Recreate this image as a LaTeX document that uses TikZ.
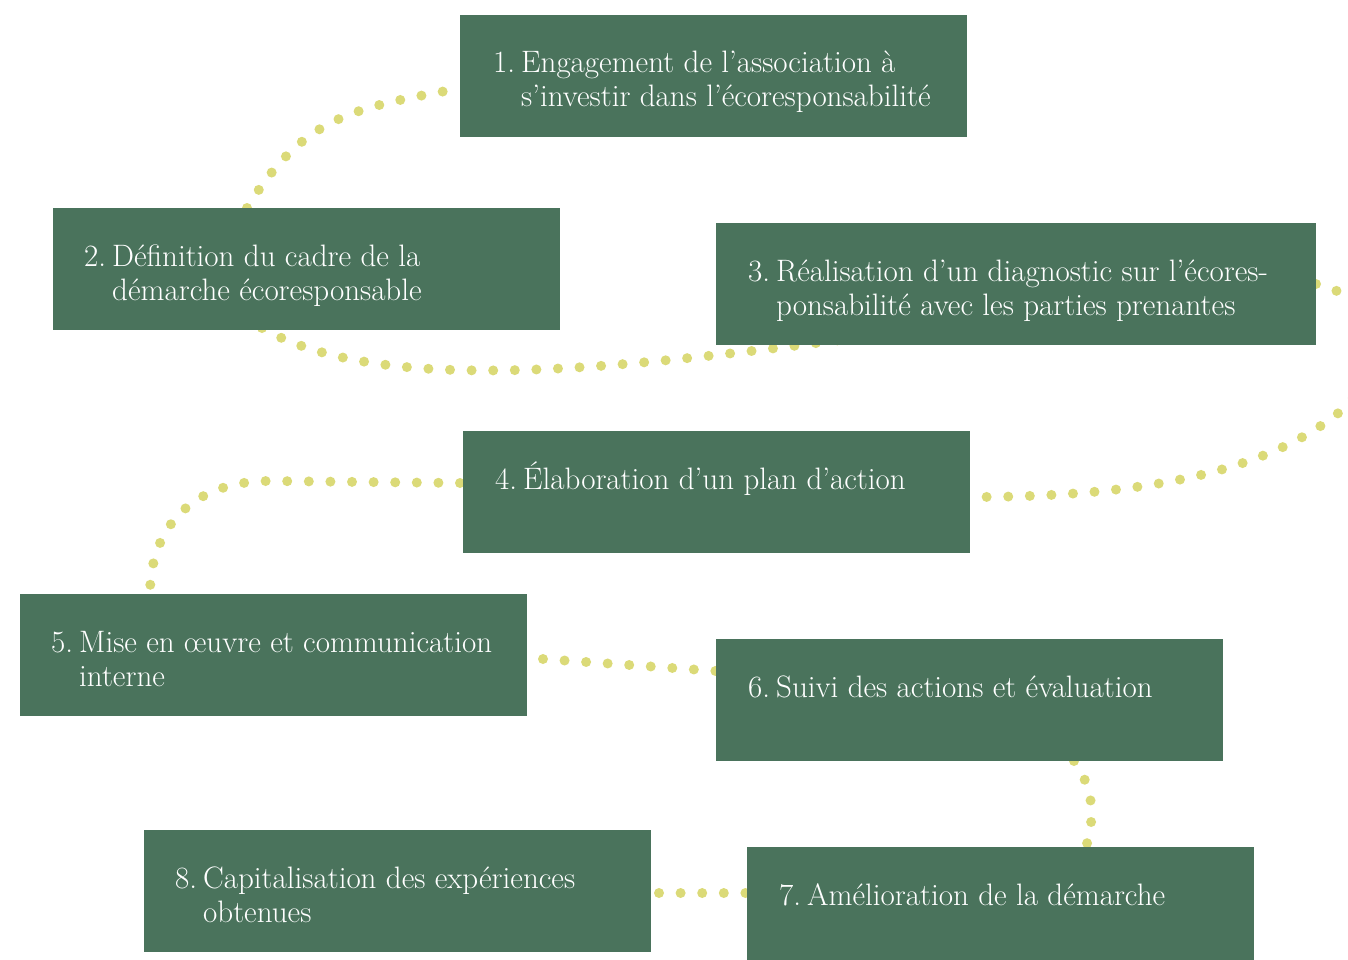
\documentclass[tikz,border=0pt]{standalone}
\usetikzlibrary{calc}
\definecolor{boxgreen}{HTML}{4A735C}
\definecolor{dotcol}{HTML}{DBDA78}
\newcommand{\stepitem}[2]{\begin{tabular}[t]{@{}l@{}l@{}}\makebox[28pt][l]{#1} & #2\end{tabular}}
\tikzset{
  stepbox/.style={fill=boxgreen, draw=none, inner sep=0pt, minimum width=507pt, minimum height=122pt, anchor=north west},
  steptext/.style={text=white, inner sep=0pt, anchor=base west, font=\fontsize{31}{34}\selectfont},
  dotline/.style={draw=dotcol, line width=10pt, line cap=round, dash pattern=on 0pt off 21.6pt}
}
\begin{document}
\begin{tikzpicture}[x=1pt, y=-1pt]
\useasboundingbox (0,0) rectangle (1348,960);
\clip (0,0) rectangle (1348,960);
% box corners
\path (460,15) coordinate (p1) (53,208) coordinate (p2) (716,223) coordinate (p3)
      (463,431) coordinate (p4) (20,594) coordinate (p5) (716,639) coordinate (p6)
      (747,847) coordinate (p7) (144,830) coordinate (p8);
% connectors (under boxes)
\draw[dotline] ($(p2)+(194,0)$) coordinate (c12a) .. controls (304,115) and (354,108) .. ($(p1)+(2,73)$) coordinate (c12b);
\draw[dotline] ($(p2)+(209,120)$) coordinate (c23a) .. controls (375,393) and (592,372) .. ($(p3)+(124,117)$) coordinate (c23b);
\draw[dotline] ($(p3)+(600,61)$) coordinate (c34a) .. controls (1396,304) and (1385,367) .. (1342,410) .. controls (1270,470) and (1150,497) .. ($(p4)+(507,66)$) coordinate (c34b);
\draw[dotline] ($(p4)+(-3,52)$) coordinate (c45a) -- (270,481) .. controls (192,481) and (150,528) .. ($(p5)+(130,0)$) coordinate (c45b);
\draw[dotline] ($(p5)+(523,65)$) coordinate (c56a) -- ($(p6)+(0,32)$) coordinate (c56b);
\draw[dotline] ($(p6)+(358,122)$) coordinate (c67a) .. controls (1095,790) and (1095,820) .. ($(p7)+(338,3)$) coordinate (c67b);
\draw[dotline] ($(p8)+(515,63)$) coordinate (c78a) -- ($(p7)+(0,46)$) coordinate (c78b);
% boxes
\node[stepbox] (b1) at (p1) {};
\node[stepbox] (b2) at (p2) {};
\node[stepbox, minimum width=600pt] (b3) at (p3) {};
\node[stepbox] (b4) at (p4) {};
\node[stepbox] (b5) at (p5) {};
\node[stepbox] (b6) at (p6) {};
\node[stepbox, minimum height=140pt] (b7) at (p7) {};
\node[stepbox] (b8) at (p8) {};
% texts
\node[steptext] (t1) at ($(b1.north west)+(33,58)$) {\stepitem{1.}{Engagement de l’association à\\ & s’investir dans l’écoresponsabilité}};
\node[steptext] (t2) at ($(b2.north west)+(31,58)$) {\stepitem{2.}{Définition du cadre de la\\ & démarche écoresponsable}};
\node[steptext] (t3) at ($(b3.north west)+(32,58)$) {\stepitem{3.}{Réalisation d’un diagnostic sur l’écores-\\ & ponsabilité avec les parties prenantes}};
\node[steptext] (t4) at ($(b4.north west)+(32,58)$) {\stepitem{4.}{Élaboration d’un plan d’action}};
\node[steptext] (t5) at ($(b5.north west)+(31,58)$) {\stepitem{5.}{Mise en œuvre et communication\\ & interne}};
\node[steptext] (t6) at ($(b6.north west)+(32,58)$) {\stepitem{6.}{Suivi des actions et évaluation}};
\node[steptext] (t7) at ($(b7.north west)+(32,58)$) {\stepitem{7.}{Amélioration de la démarche}};
\node[steptext] (t8) at ($(b8.north west)+(31,58)$) {\stepitem{8.}{Capitalisation des expériences\\ & obtenues}};
\end{tikzpicture}
\end{document}
